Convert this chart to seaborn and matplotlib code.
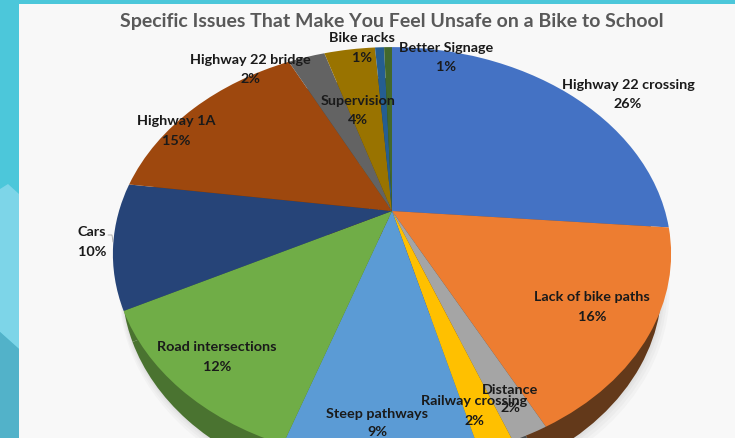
import matplotlib
matplotlib.use("Agg")
import matplotlib.pyplot as plt
import numpy as np
import seaborn as sns
from matplotlib.patches import Polygon, Rectangle
from matplotlib.transforms import Transform

sns.set_theme(style="white")
plt.rcParams['font.family'] = ['Lato', 'DejaVu Sans']

categories = ["Highway 22 crossing", "Lack of bike paths", "Distance", "Railway crossing",
              "Steep pathways", "Road intersections", "Cars", "Highway 1A",
              "Highway 22 bridge", "Supervision", "Bike racks", "Better Signage"]
# slice sizes as drawn in the picture, and the percentages printed on it
drawn_shares = [26.3, 16.1, 1.8, 1.7, 9.3, 12.25, 9.75, 15.4, 2.6, 3.6, 0.64, 0.56]
share_labels = [26, 16, 2, 2, 9, 12, 10, 15, 2, 4, 1, 1]
slice_colors = ["#4472C4", "#ED7D31", "#A5A5A5", "#FFC000", "#5B9BD5", "#70AD47",
                "#264478", "#9E480E", "#636363", "#997300", "#255E91", "#43682B"]
side_colors = ["#2b4a80", "#63391a", "#474b4d", "#a07a00", "#3a6a94", "#4a7330",
               "#4a7330", "#63300a", "#404040", "#604800", "#173b5c", "#2b431c"]

title_text = "Specific Issues That Make You Feel Unsafe on a Bike to School"
label_xy = [(628, 85), (592, 297), (510, 390), (474, 401), (377, 414), (217, 347),
            (92, 232), (176, 121), (250, 60), (358, 101), (362, 38), (446, 48)]
value_xy = [(628, 104), (592, 317), (510, 408), (474, 421), (377, 432), (217, 367),
            (92, 252), (176, 141), (250, 79), (358, 120), (362, 58), (446, 67)]


class Perspective(Transform):
    """Tilted-disc projection of the unit pie onto figure pixels."""
    input_dims = output_dims = 2

    def __init__(self, cx, cy, sx, sy, k):
        super().__init__()
        self.p = (cx, cy, sx, sy, k)

    def transform_non_affine(self, values):
        cx, cy, sx, sy, k = self.p
        values = np.asarray(values, dtype=float)
        w = 1 + k * values[:, 1]
        return np.column_stack((cx + sx * values[:, 0] / w, cy - sy * values[:, 1] / w))


fig = plt.figure(figsize=(7.35, 4.39), dpi=100)
ax = fig.add_axes([0, 0, 1, 1])

top_view = Perspective(392, 212, 273, 198, 0.208)
side_view = Perspective(392, 243, 264, 198, 0.208)
shadow_views = [Perspective(392 + d * 0.5, 243 + d, 264 + d, 198 + d, 0.208) for d in (5, 3.5, 2, 1)]

for view in shadow_views:
    wedges, _ = ax.pie(drawn_shares, colors=["#555555"] * len(drawn_shares), startangle=90, counterclock=False)
    for w in wedges:
        w.set_transform(view + ax.transData)
        w.set_alpha(0.035)
        w.set_linewidth(0)
        w.set_zorder(2)

wedges, _ = ax.pie(drawn_shares, colors=side_colors, startangle=90, counterclock=False)
for w in wedges:
    w.set_transform(side_view + ax.transData)
    w.set_linewidth(0)
    w.set_zorder(3)

wedges, _ = ax.pie(drawn_shares, colors=slice_colors, startangle=90, counterclock=False)
for w in wedges:
    w.set_transform(top_view + ax.transData)
    w.set_linewidth(0)
    w.set_zorder(4)

ax.set_aspect("auto")
ax.set_xlim(0, 735)
ax.set_ylim(439, 0)
ax.axis("off")

# slide background
fig.patches.extend([
    Rectangle((0, 0), 1, 1, transform=fig.transFigure, fc="#f8f8f8", ec="none", zorder=-5),
    Rectangle((0, 1 - 5 / 439), 1, 5 / 439, transform=fig.transFigure, fc="#4cc7da", ec="none", zorder=-4),
    Rectangle((0, 0), 19 / 735, 1, transform=fig.transFigure, fc="#4cc7da", ec="none", zorder=-4),
    Polygon([(0, 1 - 190 / 439), (8 / 735, 1 - 185 / 439), (19 / 735, 1 - 195 / 439), (19 / 735, 1 - 350 / 439),
             (0, 1 - 333 / 439)], transform=fig.transFigure, fc="#7dd5e8", ec="none", zorder=-3),
    Polygon([(0, 1 - 333 / 439), (19 / 735, 1 - 350 / 439), (19 / 735, 0), (0, 0)],
            transform=fig.transFigure, fc="#52b2c9", ec="none", zorder=-3),
])

ax.text(392, 21, title_text, ha="center", va="center", fontsize=14.0, fontweight="bold",
        color="#595959", zorder=6)
for name, share, (lx, ly), (vx, vy) in zip(categories, share_labels, label_xy, value_xy):
    ax.text(lx, ly, name, ha="center", va="center", fontsize=10.4, fontweight="bold", color="#1a1a1a", zorder=6)
    ax.text(vx, vy, f"{share}%", ha="center", va="center", fontsize=10.4, fontweight="bold", color="#1a1a1a", zorder=6)
ax.plot([108, 112, 113], [236, 236, 243], color="#a6a6a6", lw=0.6, zorder=5)

fig.savefig("out.png", dpi=100)
